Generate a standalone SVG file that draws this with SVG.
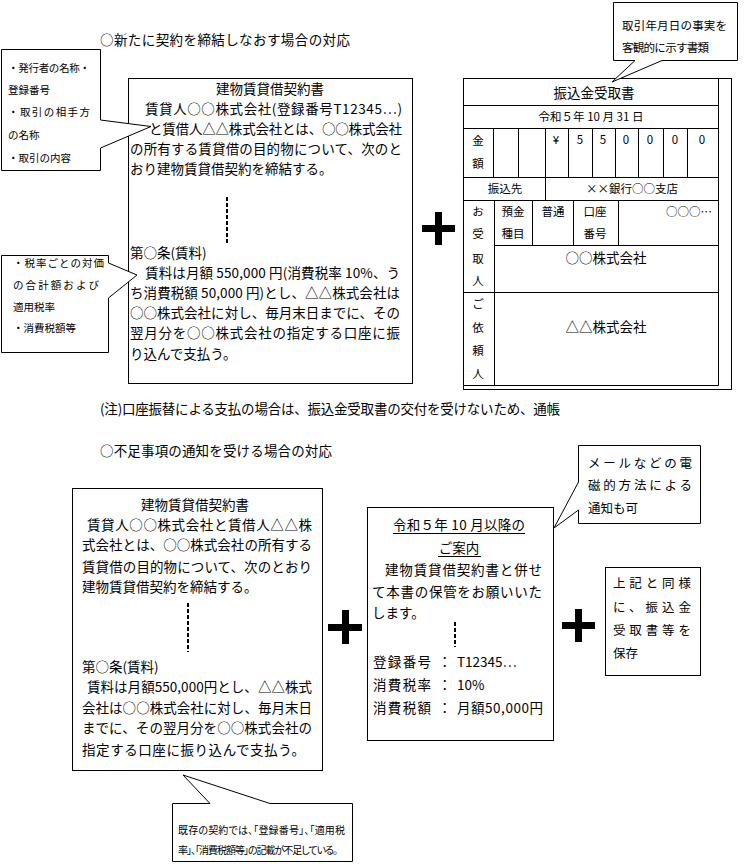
<svg xmlns="http://www.w3.org/2000/svg" width="744" height="864" viewBox="0 0 744 864">
<style>
text{font-family:"Noto Sans CJK JP","Noto Sans CJK SC",sans-serif;fill:#000}
.f{font-size:13.5px}
.s{font-size:10.5px}
.m{font-size:11.5px}
.b{font-size:12.5px}
.p{font-size:10px;font-feature-settings:"palt"}
.box{fill:#fff;stroke:#000;stroke-width:1}
.ln{fill:none;stroke:#000;stroke-width:1}
.dash{fill:none;stroke:#000;stroke-width:2;stroke-dasharray:4 2}
.c{text-anchor:middle}
</style>
<rect width="744" height="864" fill="#fff"/>

<g id="title1"><text class="f" x="100" y="45" textLength="250">○新たに契約を締結しなおす場合の対応</text></g>

<g id="contract1">
<rect class="box" x="128.5" y="78.5" width="284" height="305"/>
<text class="f c" x="270" y="94">建物賃貸借契約書</text>
<text class="f" x="145" y="114" textLength="257">賃貸人○○株式会社(登録番号T12345…)</text>
<text class="f" x="149" y="134" textLength="253">と賃借人△△株式会社とは、○○株式会社</text>
<text class="f" x="130" y="154" textLength="272">の所有する賃貸借の目的物について、次のと</text>
<text class="f" x="130" y="174">おり建物賃貸借契約を締結する。</text>
<line class="dash" x1="227" y1="197" x2="227" y2="245"/>
<text class="f" x="130" y="258">第○条(賃料)</text>
<text class="f" x="145" y="278" textLength="255">賃料は月額 550,000 円(消費税率 10%、う</text>
<text class="f" x="130" y="298" textLength="270">ち消費税額 50,000 円)とし、△△株式会社は</text>
<text class="f" x="130" y="318" textLength="270">○○株式会社に対し、毎月末日までに、その</text>
<text class="f" x="130" y="338" textLength="270">翌月分を○○株式会社の指定する口座に振</text>
<text class="f" x="130" y="359">り込んで支払う。</text>
</g>

<g id="callout1">
<path class="box" d="M1.5,49.5 H100.5 V120 L151,126.5 L100.5,148 V170.5 H1.5 Z"/>
<text class="s" x="8" y="72" textLength="82">・発行者の名称・</text>
<text class="s" x="8" y="94">登録番号</text>
<text class="s" x="8" y="116" textLength="82">・取引の相手方</text>
<text class="s" x="8" y="139">の名称</text>
<text class="s" x="8" y="162">・取引の内容</text>
</g>

<g id="callout2">
<path class="box" d="M1.5,255.5 H108.5 V263 L137,275 L108.5,298 V352.5 H1.5 Z"/>
<text class="s" x="13" y="267" textLength="91">・税率ごとの対価</text>
<text class="s" x="13" y="289" textLength="86">の合計額および</text>
<text class="s" x="13" y="311">適用税率</text>
<text class="s" x="13" y="332">・消費税額等</text>
</g>

<g id="receipt">
<rect class="box" x="463.5" y="78.5" width="268" height="311"/>
<path class="ln" d="M718.5,78.5 V385.5 M463.5,105.5 H718.5 M463.5,128.5 H718.5 M463.5,177.5 H718.5 M463.5,200.5 H718.5 M494.5,245.5 H718.5 M463.5,292.5 H718.5 M463.5,385.5 H718.5 M493.5,128.5 V177.5 M518.5,128.5 V177.5 M545.5,128.5 V200.5 M568.5,128.5 V177.5 M592.5,128.5 V177.5 M615.5,128.5 V177.5 M638.5,128.5 V177.5 M663.5,128.5 V177.5 M687.5,128.5 V177.5 M494.5,200.5 V385.5 M532.5,200.5 V245.5 M573.5,200.5 V245.5 M618.5,200.5 V245.5"/>
<text class="f c" x="594" y="98">振込金受取書</text>
<text class="m c" x="591" y="121">令和５年 10 月 31 日</text>
<text class="m c" x="478" y="145">金</text>
<text class="m c" x="478" y="168">額</text>
<text class="m c" x="556" y="144">¥</text>
<text class="m c" x="580" y="144">5</text>
<text class="m c" x="603" y="144">5</text>
<text class="m c" x="626" y="144">0</text>
<text class="m c" x="650" y="144">0</text>
<text class="m c" x="675" y="144">0</text>
<text class="m c" x="702" y="144">0</text>
<text class="m c" x="505" y="193">振込先</text>
<text class="m c" x="632" y="193">××銀行○○支店</text>
<text class="m c" x="478" y="216">お</text>
<text class="m c" x="478" y="238">受</text>
<text class="m c" x="478" y="263">取</text>
<text class="m c" x="478" y="285">人</text>
<text class="m c" x="513" y="216">預金</text>
<text class="m c" x="513" y="238">種目</text>
<text class="m c" x="553" y="216">普通</text>
<text class="m c" x="595" y="216">口座</text>
<text class="m c" x="595" y="238">番号</text>
<text class="m" x="712" y="216" style="text-anchor:end">○○○…</text>
<text class="f c" x="606" y="263">○○株式会社</text>
<text class="m c" x="478" y="308">ご</text>
<text class="m c" x="478" y="332">依</text>
<text class="m c" x="478" y="355">頼</text>
<text class="m c" x="478" y="378">人</text>
<text class="f c" x="606" y="332">△△株式会社</text>
</g>

<g id="callout3">
<path class="box" d="M613.5,2.5 H737.5 V60.5 H662 L612,82 L635,60.5 H613.5 Z"/>
<text class="m" x="622" y="30" textLength="105">取引年月日の事実を</text>
<text class="m" x="622" y="52" textLength="87">客観的に示す書類</text>
</g>

<g id="note"><text class="f" x="100" y="414" textLength="460">(注)口座振替による支払の場合は、振込金受取書の交付を受けないため、通帳</text></g>

<g id="title2"><text class="f" x="100" y="456" textLength="232">○不足事項の通知を受ける場合の対応</text></g>

<g id="contract2">
<rect class="box" x="72.5" y="488.5" width="250" height="282"/>
<text class="f c" x="195" y="510">建物賃貸借契約書</text>
<text class="f" x="87" y="530" textLength="225">賃貸人○○株式会社と賃借人△△株</text>
<text class="f" x="82" y="550" textLength="230">式会社とは、○○株式会社の所有する</text>
<text class="f" x="82" y="572" textLength="230">賃貸借の目的物について、次のとおり</text>
<text class="f" x="82" y="592">建物賃貸借契約を締結する。</text>
<line class="dash" x1="188" y1="603" x2="188" y2="652"/>
<text class="f" x="82" y="672">第○条(賃料)</text>
<text class="f" x="87" y="692" textLength="225">賃料は月額550,000円とし、△△株式</text>
<text class="f" x="82" y="713" textLength="230">会社は○○株式会社に対し、毎月末日</text>
<text class="f" x="82" y="733" textLength="230">までに、その翌月分を○○株式会社の</text>
<text class="f" x="82" y="755" textLength="223">指定する口座に振り込んで支払う。</text>
</g>

<g id="notice">
<rect class="box" x="367.5" y="507.5" width="186" height="233"/>
<text class="f c" x="459" y="530" textLength="132">令和５年 10 月以降の</text>
<line class="ln" x1="393" y1="533.5" x2="525" y2="533.5"/>
<text class="f c" x="459" y="553">ご案内</text>
<line class="ln" x1="438" y1="556.5" x2="481" y2="556.5"/>
<text class="f" x="385" y="575" textLength="157">建物賃貸借契約書と併せ</text>
<text class="f" x="372" y="597" textLength="170">て本書の保管をお願いいた</text>
<text class="f" x="372" y="618">します。</text>
<line class="dash" x1="455" y1="622" x2="455" y2="647"/>
<text class="f" x="373" y="667" textLength="58">登録番号</text>
<text class="f" x="438" y="667">：</text>
<text class="f" x="457" y="667">T12345…</text>
<text class="f" x="373" y="690" textLength="58">消費税率</text>
<text class="f" x="438" y="690">：</text>
<text class="f" x="457" y="690">10%</text>
<text class="f" x="373" y="713" textLength="58">消費税額</text>
<text class="f" x="438" y="713">：</text>
<text class="f" x="457" y="713" textLength="86">月額50,000円</text>
</g>

<g id="callout-mail">
<path class="box" d="M578.5,445.5 H700.5 V523.5 H578.5 V510 L554,528 L578.5,482 Z"/>
<text class="b" x="588" y="468" textLength="104">メールなどの電</text>
<text class="b" x="588" y="490" textLength="104">磁的方法による</text>
<text class="b" x="588" y="513">通知も可</text>
</g>

<g id="store">
<rect class="box" x="605.5" y="567.5" width="95" height="108"/>
<text class="b" x="613" y="588" textLength="78">上記と同様</text>
<text class="b" x="613" y="612" textLength="78">に、振込金</text>
<text class="b" x="613" y="635" textLength="78">受取書等を</text>
<text class="b" x="613" y="658">保存</text>
</g>

<g id="callout-bottom">
<path class="box" d="M172.5,803.5 H210 L183,775 L270,803.5 H352.5 V861.5 H172.5 Z"/>
<text class="p" x="178" y="834" textLength="167">既存の契約では、「登録番号」、「適用税</text>
<text class="p" x="178" y="854" textLength="160">率」、「消費税額等」の記載が不足している。</text>
</g>

<g id="connectors">
<rect x="422" y="225" width="33" height="7"/><rect x="435" y="212" width="7" height="33"/>
<rect x="328" y="624" width="34" height="7"/><rect x="342" y="610" width="7" height="34"/>
<rect x="562" y="622" width="33" height="7"/><rect x="575" y="609" width="7" height="33"/>
</g>
</svg>
